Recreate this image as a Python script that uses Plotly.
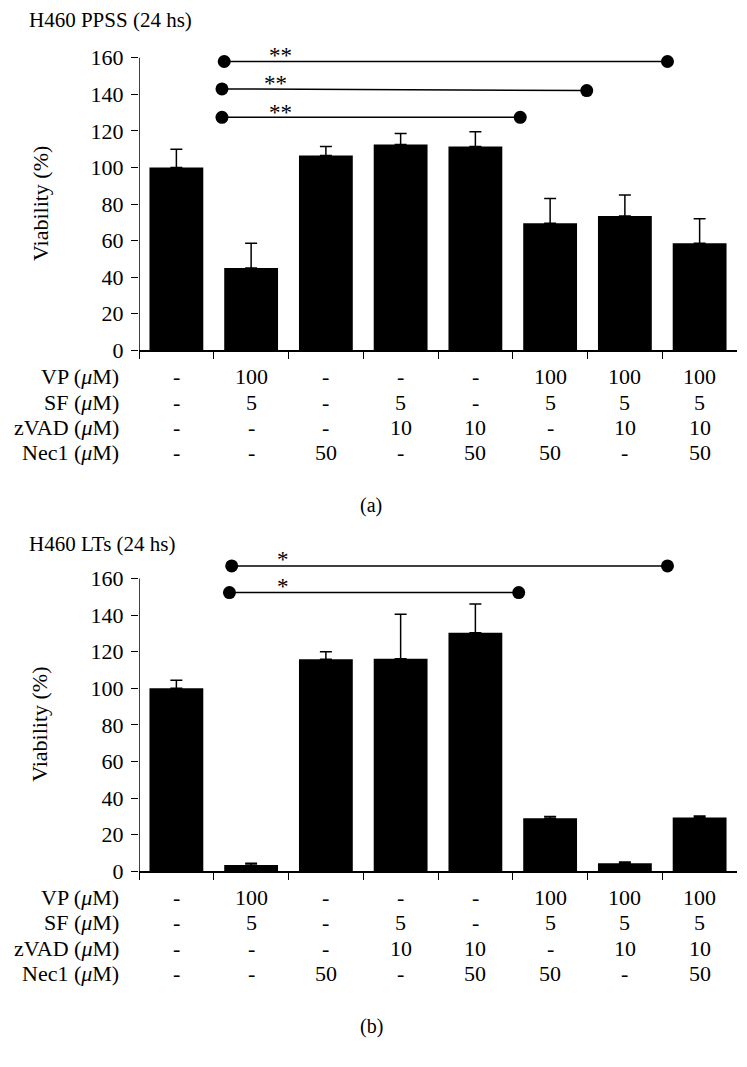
import plotly.graph_objects as go

W, H = 747, 1067
FONT = "Liberation Serif"

# ---------------- data ----------------
conditions = ["C1", "C2", "C3", "C4", "C5", "C6", "C7", "C8"]
row_names = ["VP (<i>μ</i>M)", "SF (<i>μ</i>M)", "zVAD (<i>μ</i>M)", "Nec1 (<i>μ</i>M)"]
vp = ["-", "100", "-", "-", "-", "100", "100", "100"]
sf = ["-", "5", "-", "5", "-", "5", "5", "5"]
zvad = ["-", "-", "-", "10", "10", "-", "10", "10"]
nec1 = ["-", "-", "50", "-", "50", "50", "-", "50"]

ppss_mean = [100, 45, 106.5, 112.5, 111.5, 69.5, 73.5, 58.5]
ppss_err = [10, 13.5, 5, 6, 8, 13.5, 11.5, 13.5]
lts_mean = [100, 3.4, 115.8, 116.2, 130.3, 29.0, 4.3, 29.3]
lts_err = [4.4, 0.9, 4.2, 24.3, 15.7, 0.9, 0.8, 0.9]

# significance comparisons: (x start, x end, y start, y end, label, label x, label y)
ppss_sig = [
    (0.64, 6.57, 157.9, 157.9, "**", 1.39, 161.0),
    (0.61, 5.49, 142.9, 142.0, "**", 1.32, 146.0),
    (0.61, 4.60, 127.4, 127.4, "**", 1.39, 130.2),
]
lts_sig = [
    (0.74, 6.57, 166.9, 166.9, "*", 1.42, 170.6),
    (0.71, 4.58, 152.3, 152.3, "*", 1.42, 155.5),
]

yticks = [0, 20, 40, 60, 80, 100, 120, 140, 160]

# ---------------- layout geometry ----------------
K = 1.012  # vertical calibration
X0_PX, X1_PX = 139, 737
PPU = 1.83 * K
YMAX = 180
ROW_OFFS = [26.5 * K, 51.8 * K, 77.2 * K, 102.6 * K]

panels = [
    dict(title="H460 PPSS (24 hs)", mean=ppss_mean, err=ppss_err, sig=ppss_sig,
         zero=350.5 * K, label="(a)", ax="", title_px=20.5 * K),
    dict(title="H460 LTs (24 hs)", mean=lts_mean, err=lts_err, sig=lts_sig,
         zero=871.5 * K, label="(b)", ax="2", title_px=544 * K),
]

fig = go.Figure()
annotations = []
shapes = []
layout_axes = {}
xs = list(range(len(conditions)))


def py(px):
    return 1 - px / H


for p in panels:
    xa = "x" + p["ax"]
    ya = "y" + p["ax"]
    fig.add_trace(go.Bar(
        x=xs, y=p["mean"], width=0.72, marker=dict(color="black", line=dict(width=0)),
        error_y=dict(type="data", symmetric=False, array=p["err"],
                     arrayminus=[0] * len(xs), color="black", thickness=1.5, width=6),
        xaxis=xa, yaxis=ya, showlegend=False, hoverinfo="skip"))
    for (sx0, sx1, sy0, sy1, lab, lx, ly) in p["sig"]:
        fig.add_trace(go.Scatter(
            x=[sx0, sx1], y=[sy0, sy1], mode="lines+markers",
            line=dict(color="black", width=1.5),
            marker=dict(size=13, color="black"),
            cliponaxis=False, xaxis=xa, yaxis=ya, showlegend=False, hoverinfo="skip"))
        annotations.append(dict(x=lx, y=ly, xref=xa, yref=ya, text=lab, showarrow=False,
                                xanchor="center", yanchor="middle",
                                font=dict(family=FONT, size=23, color="black")))
    top_px = p["zero"] - YMAX * PPU
    layout_axes["xaxis" + p["ax"]] = dict(
        domain=[X0_PX / W, X1_PX / W], range=[-0.5, 7.5], anchor=ya,
        tickvals=[i - 0.5 for i in range(len(xs))], ticks="outside", ticklen=7,
        tickwidth=1.3, tickcolor="black", showticklabels=False,
        showline=True, linecolor="black", linewidth=1.5,
        showgrid=False, zeroline=False)
    layout_axes["yaxis" + p["ax"]] = dict(
        domain=[py(p["zero"]), py(top_px)], range=[0, YMAX], anchor=xa,
        tickvals=yticks, ticks="outside", ticklen=7, tickwidth=1.3, tickcolor="black",
        ticklabelstandoff=3,
        tickfont=dict(family=FONT, size=22, color="black"),
        showline=False, showgrid=False, zeroline=False)
    shapes.append(dict(type="line", xref=xa, yref=ya, x0=-0.5, x1=-0.5, y0=0, y1=160,
                       line=dict(color="black", width=1.5)))
    # title
    annotations.append(dict(x=27 / W, y=py(p["title_px"]), xref="paper", yref="paper",
                            text=p["title"], showarrow=False, xanchor="left", yanchor="middle",
                            font=dict(family=FONT, size=21, color="black")))
    # y title
    annotations.append(dict(x=40 / W, y=py(p["zero"] - 80 * PPU), xref="paper", yref="paper",
                            text="Viability (%)", showarrow=False, textangle=-90,
                            xanchor="center", yanchor="middle",
                            font=dict(family=FONT, size=22, color="black")))
    # table rows
    for name, vals, off in zip(row_names, [vp, sf, zvad, nec1], ROW_OFFS):
        ypos = py(p["zero"] + off)
        annotations.append(dict(x=121 / W, y=ypos, xref="paper", yref="paper", text=name,
                                showarrow=False, xanchor="right", yanchor="middle",
                                font=dict(family=FONT, size=22, color="black")))
        for xi, v in zip(xs, vals):
            annotations.append(dict(x=xi, y=ypos, xref=xa, yref="paper", text=v,
                                    showarrow=False, xanchor="center", yanchor="middle",
                                    font=dict(family=FONT, size=22, color="black")))
    # panel label
    annotations.append(dict(x=371 / W, y=py(p["zero"] + 155 * K), xref="paper", yref="paper",
                            text=p["label"], showarrow=False, xanchor="center",
                            yanchor="middle", font=dict(family=FONT, size=20, color="black")))

fig.update_layout(
    width=W, height=H, margin=dict(l=0, r=0, t=0, b=0, pad=0),
    paper_bgcolor="white", plot_bgcolor="white",
    font=dict(family=FONT, color="black"),
    annotations=annotations, shapes=shapes, barmode="overlay",
    **layout_axes)

fig.write_html("out.html", config={"displayModeBar": False},
               post_script="document.body.style.margin='0';document.body.style.padding='0';")
